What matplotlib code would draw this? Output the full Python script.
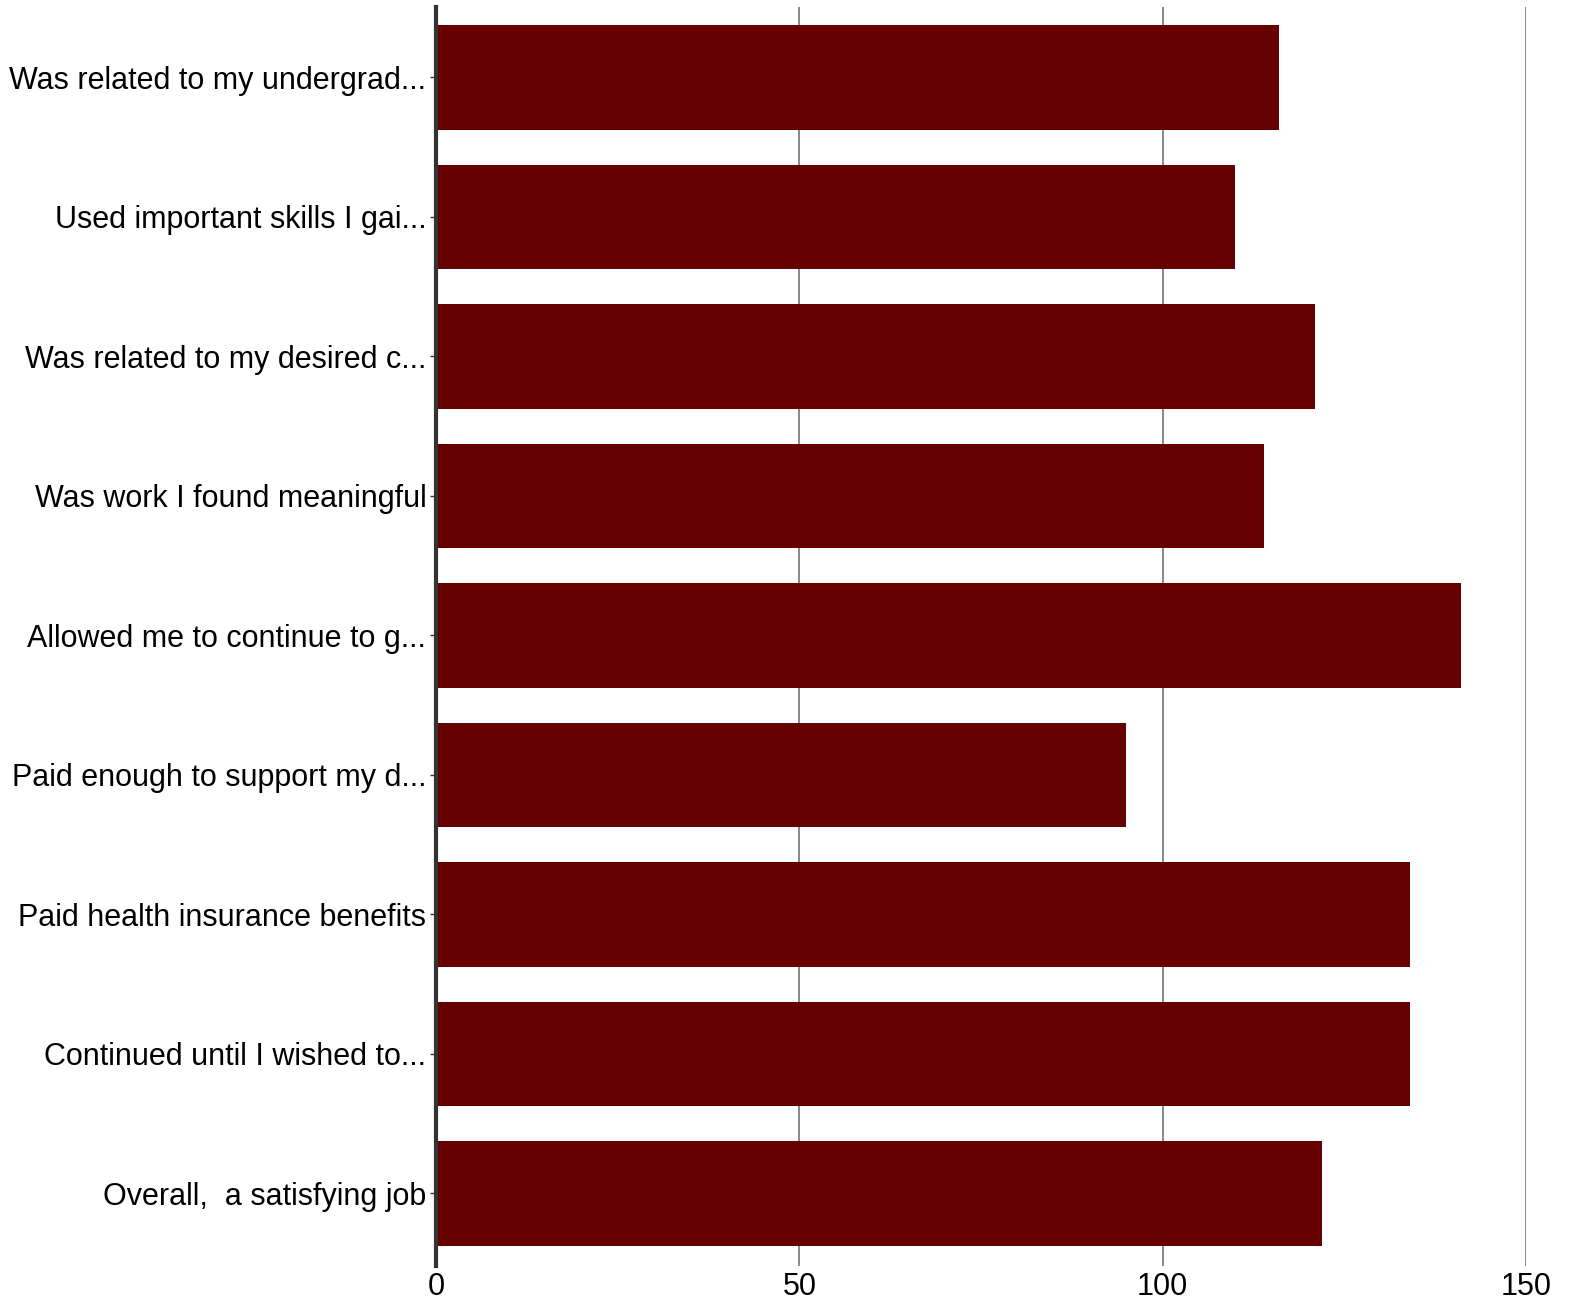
import matplotlib
matplotlib.use('Agg')
import matplotlib.pyplot as plt
import numpy as np

plt.rcParams['font.family'] = ['Liberation Sans', 'DejaVu Sans']

labels = [
    'Was related to my undergrad...',
    'Used important skills I gai...',
    'Was related to my desired c...',
    'Was work I found meaningful',
    'Allowed me to continue to g...',
    'Paid enough to support my d...',
    'Paid health insurance benefits',
    'Continued until I wished to...',
    'Overall,  a satisfying job',
]
values = [116, 110, 121, 114, 141, 95, 134, 134, 122]
xticks = [0, 50, 100, 150]

fig = plt.figure(figsize=(15.72, 13.05), dpi=100)
ax = fig.add_axes([0.2774, 0.0299, 0.6933, 0.9647])

y = np.arange(len(labels))
ax.barh(y, values, height=0.75, color='#660000', zorder=3)

ax.set_xlim(0, 150)
ax.set_ylim(8.52, -0.505)
ax.set_xticks(xticks)
ax.set_xticklabels([str(t) for t in xticks], fontsize=22)
ax.set_yticks(y)
ax.set_yticklabels(labels, fontsize=22)

ax.grid(axis='x', color='#808080', linewidth=1.3, zorder=0)
for s in ['top', 'right', 'bottom']:
    ax.spines[s].set_visible(False)
ax.spines['left'].set_color('#333333')
ax.spines['left'].set_linewidth(3)
ax.spines['left'].set_zorder(4)
ax.tick_params(axis='x', length=0, pad=4)
ax.tick_params(axis='y', length=4, width=1, color='#333333', pad=3)

fig.savefig('out.png', dpi=100)
